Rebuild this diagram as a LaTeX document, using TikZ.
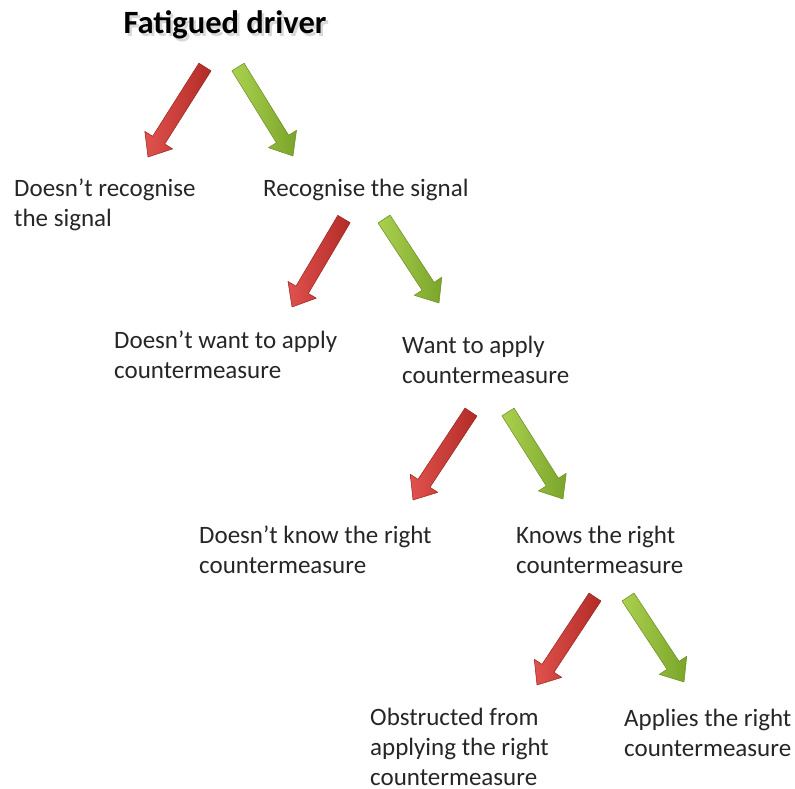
\documentclass[tikz,border=0pt]{standalone}
\usepackage{fontspec}
\setmainfont{Carlito}
\usetikzlibrary{calc}
\definecolor{redlight}{HTML}{E0524D}
\definecolor{reddark}{HTML}{B22B27}
\definecolor{grnlight}{HTML}{ABD04E}
\definecolor{grndark}{HTML}{7AA52A}
\tikzset{
  lbl/.style={anchor=base west, inner sep=0pt, align=left, font=\fontsize{25}{30}\selectfont, text=black!85},
  ttl/.style={anchor=base, inner sep=0pt, font=\fontsize{32.5}{36}\selectfont\bfseries},
  redarr/.style={left color=redlight, right color=reddark, draw=reddark!85!black, line width=0.5pt, line join=round},
  grnarr/.style={left color=grnlight, right color=grndark, draw=grndark!85!black, line width=0.5pt, line join=round},
}
% #1 style, #2 start, #3 end
\newcommand\fatarrow[3]{%
  \coordinate (h) at ($(#3)!20pt!(#2)$);
  \path[#1] ($(#2)!7.2pt!90:(#3)$) -- ($(h)!7.2pt!90:(#3)$) -- ($(h)!16.5pt!90:(#3)$)
     -- (#3) -- ($(h)!16.5pt!-90:(#3)$) -- ($(h)!7.2pt!-90:(#3)$) -- ($(#2)!7.2pt!-90:(#3)$) -- cycle;
}
\begin{document}
\begin{tikzpicture}[x=1pt,y=-1pt]
\useasboundingbox (0,0) rectangle (795,789);
% title
\node[ttl, text=black!30, opacity=0.5] (titleshadow) at (227.5,36.5) {Fatigued driver};
\node[ttl] (title) at (225,34) {Fatigued driver};
% arrow coordinates
\coordinate (r1s) at (205,67);  \coordinate (r1e) at (148,157);
\coordinate (g1s) at (238,67);  \coordinate (g1e) at (293,156);
\coordinate (r2s) at (344,219); \coordinate (r2e) at (292,307);
\coordinate (g2s) at (384,219); \coordinate (g2e) at (439,303);
\coordinate (r3s) at (471,412); \coordinate (r3e) at (413,500);
\coordinate (g3s) at (508,412); \coordinate (g3e) at (563,499);
\coordinate (r4s) at (595,597); \coordinate (r4e) at (537,685);
\coordinate (g4s) at (628,597); \coordinate (g4e) at (684,682);
\fatarrow{redarr}{r1s}{r1e}
\fatarrow{grnarr}{g1s}{g1e}
\fatarrow{redarr}{r2s}{r2e}
\fatarrow{grnarr}{g2s}{g2e}
\fatarrow{redarr}{r3s}{r3e}
\fatarrow{grnarr}{g3s}{g3e}
\fatarrow{redarr}{r4s}{r4e}
\fatarrow{grnarr}{g4s}{g4e}
% labels (anchor = baseline of last line)
\node[lbl] (a1) at (14,226) {Doesn’t recognise\\the signal};
\node[lbl] (b1) at (263,196) {Recognise the signal};
\node[lbl] (a2) at (114,378) {Doesn’t want to apply\\countermeasure};
\node[lbl] (b2) at (402,383) {Want to apply\\countermeasure};
\node[lbl] (a3) at (199,573) {Doesn’t know the right\\countermeasure};
\node[lbl] (b3) at (516,573) {Knows the right\\countermeasure};
\node[lbl] (a4) at (370,785) {Obstructed from\\applying the right\\countermeasure};
\node[lbl] (b4) at (624,756) {Applies the right\\countermeasure};
\end{tikzpicture}
\end{document}
